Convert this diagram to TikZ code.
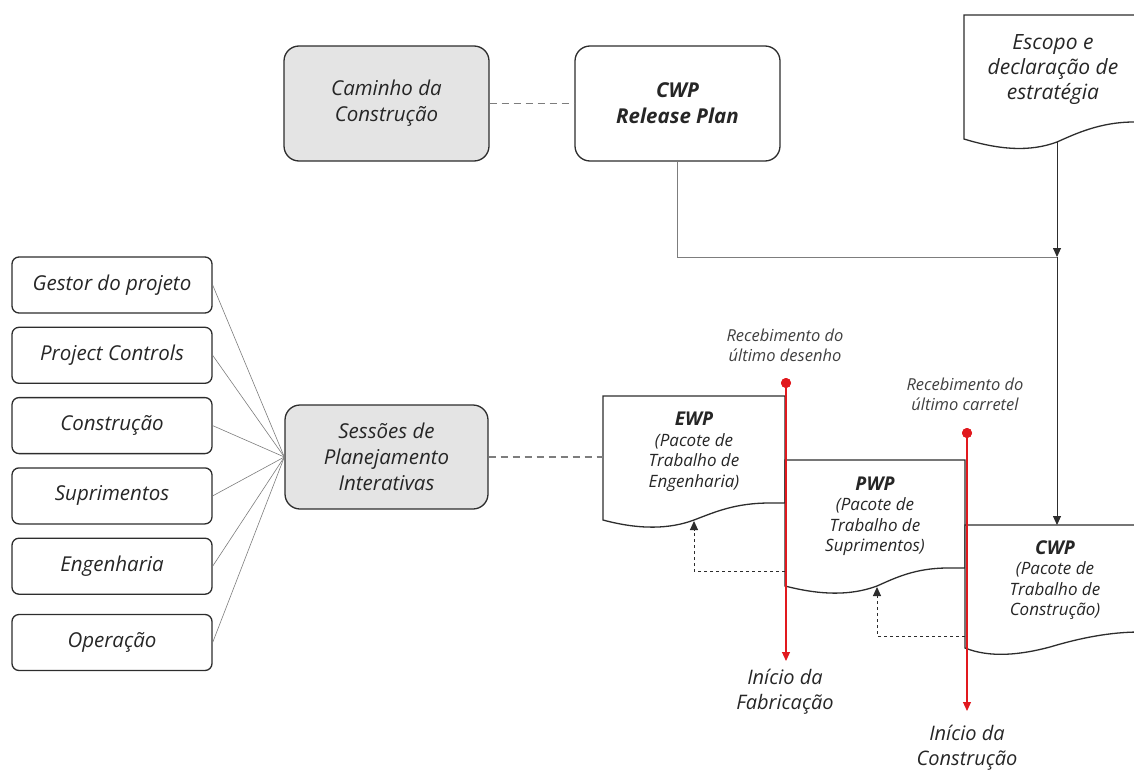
\documentclass[tikz,border=0pt]{standalone}
\usepackage{fontspec}
\setmainfont{Open Sans}
\usetikzlibrary{arrows.meta,positioning}

\definecolor{boxgray}{RGB}{228,228,228}
\definecolor{linegray}{RGB}{125,125,125}
\definecolor{darkline}{RGB}{45,45,45}
\definecolor{markred}{RGB}{225,25,30}

\tikzstyle{role} = [rectangle, rounded corners=7pt, minimum width=200pt, minimum height=56pt, align=center, draw=darkline, line width=1.3pt, text=black!85, font=\fontsize{20.5}{26}\selectfont\itshape]
\tikzstyle{session} = [role, fill=boxgray, rounded corners=15pt, minimum width=203pt, minimum height=104pt]
\tikzstyle{plan} = [session, minimum width=205pt, minimum height=115pt]
\tikzstyle{doc} = [draw=darkline, line width=1.3pt, fill=white]
\tikzstyle{doctext} = [align=center, text=black!85, font=\fontsize{17}{20.5}\selectfont\itshape]
\tikzstyle{note} = [align=center, text=black!75, font=\fontsize{16.5}{20}\selectfont\itshape]
\tikzstyle{startlabel} = [align=center, text=black!85, font=\fontsize{20}{25}\selectfont\itshape]
\tikzstyle{milestone} = [circle, fill=markred, inner sep=0pt, minimum size=10pt]
\tikzstyle{redarrow} = [-{Triangle[length=9pt,width=8pt]}, draw=markred, fill=markred, line width=1.1pt]
\tikzstyle{feed} = [-{Triangle[length=9pt,width=8pt]}, dash pattern=on 3pt off 3pt, line width=1pt, darkline]
\tikzstyle{link} = [draw=linegray, line width=0.8pt]
\tikzstyle{dashlink} = [draw=linegray, dash pattern=on 7pt off 5pt, line width=1.3pt]
\tikzstyle{flow} = [-{Triangle[length=9pt,width=8pt]}, line width=0.9pt, darkline]

\begin{document}
\begin{tikzpicture}[x=1pt, y=-1pt]
		\useasboundingbox (0,0) rectangle (1134,771);
		\clip (0,0) rectangle (1134,771);
		% Nodes
		\node (cam) [plan] at (386.5,103.5) {Caminho da\\Construção};
		\node (rp) [plan, fill=white, font=\fontsize{20.5}{26}\selectfont\itshape\bfseries] at (677.5,103.5) {CWP\\Release Plan};
		\node (sess) [session] at (386.5,457) {Sessões de\\Planejamento\\Interativas};
		\node (g1) [role] at (112,285) {Gestor do projeto};
		\node (g2) [role, below=13pt of g1] {Project Controls};
		\node (g3) [role, below=13pt of g2] {Construção};
		\node (g4) [role, below=13pt of g3] {Suprimentos};
		\node (g5) [role, below=13pt of g4] {Engenharia};
		\node (g6) [role, below=19pt of g5] {Operação};
		% Documents
		\draw [doc] (964,15) -- (1140,15) -- (1140,122) -- (1134,122) .. controls (1100,122) and (1075,134) .. (1057,142) .. controls (1030,152) and (1000,150) .. (964,139) -- cycle;
		\draw [doc] (603,396) -- (785,396) -- (785,503) -- (770,503) .. controls (735,503) and (715,512) .. (694,520) .. controls (670,529) and (640,530) .. (603,520) -- cycle;
		\draw [doc] (785,460) -- (965,460) -- (965,568) -- (948,568) .. controls (915,568) and (895,578) .. (877,586) .. controls (850,596) and (820,595) .. (785,586) -- cycle;
		\draw [doc] (965,525) -- (1140,525) -- (1140,632) .. controls (1110,632) and (1080,638) .. (1050,647) .. controls (1020,655) and (990,658) .. (965,648) -- cycle;
		\node (scope) [startlabel, font=\fontsize{21}{25}\selectfont\itshape] at (1053,70) {Escopo e\\declaração de\\estratégia};
		\node (ewp) [doctext] at (694,452) {\textbf{\fontsize{19}{20.5}\selectfont EWP}\\(Pacote de\\Trabalho de\\Engenharia)};
		\node (pwp) [doctext] at (875,516) {\textbf{\fontsize{19}{20.5}\selectfont PWP}\\(Pacote de\\Trabalho de\\Suprimentos)};
		\node (cwp) [doctext] at (1055,580) {\textbf{\fontsize{19}{20.5}\selectfont CWP}\\(Pacote de\\Trabalho de\\Construção)};
		\coordinate (scopebot) at (1057,142);
		\coordinate (junc) at (1057,257);
		\coordinate (cwptop) at (1057,525);
		\coordinate (ewpin) at (603,457);
		\coordinate (ewpwave) at (694,521);
		\coordinate (pwpback) at (785,571);
		\coordinate (pwpwave) at (877,587);
		\coordinate (cwpback) at (965,636);
		% Milestones
		\node (rec1) [note] at (785,345) {Recebimento do\\último desenho};
		\node (rec2) [note] at (965,394) {Recebimento do\\último carretel};
		\node (m1) [milestone] at (786,383) {};
		\node (m2) [milestone] at (967,433) {};
		\coordinate (m1end) at (786,661);
		\coordinate (m2end) at (967,711);
		\node (fab) [startlabel] at (785,692) {Início da\\Fabricação};
		\node (con) [startlabel] at (967,748) {Início da\\Construção};
		% Arrows
		\draw [dashlink] (cam) -- (rp);
		\draw [dashlink] (sess) -- (ewpin);
		\foreach \g in {g1,g2,g3,g4,g5,g6}
			\draw [link, line width=0.6pt] (\g.east) -- (sess.west);
		\draw [link] (rp.south) |- (junc);
		\draw [flow] (scopebot) -- (junc);
		\draw [flow] (junc) -- (cwptop);
		\draw [feed] (pwpback) -| (ewpwave);
		\draw [feed] (cwpback) -| (pwpwave);
		\draw [redarrow] (m1.center) -- (m1end);
		\draw [redarrow] (m2.center) -- (m2end);
		\node [milestone] at (m1) {};
		\node [milestone] at (m2) {};
	\end{tikzpicture}
\end{document}
